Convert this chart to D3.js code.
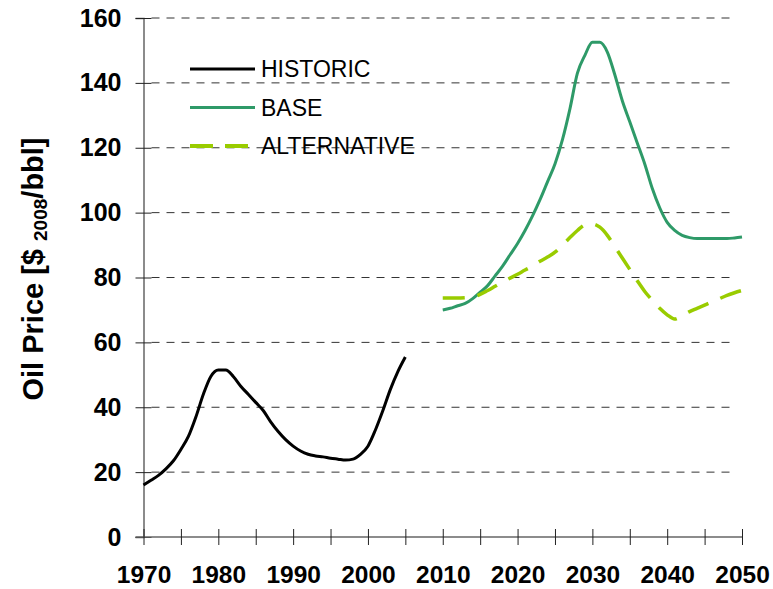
<!DOCTYPE html>
<html>
<head>
<meta charset="utf-8">
<script src="https://cdn.jsdelivr.net/npm/d3@7"></script>
<style>
  body { margin: 0; background: #fff; }
  svg { display: block; font-family: "Liberation Sans", Arial, sans-serif; }
</style>
</head>
<body>
<div id="chart"></div>
<script>
// Oil price, $2008/bbl
const historicYears = d3.range(1970, 2006);
const historicValues = [16, 17.5, 19, 21, 23.5, 27, 31, 37, 44, 49.5, 51.5, 51.5, 49.5, 46.5, 44,
  41.5, 39, 35.5, 32.5, 30, 28, 26.5, 25.5, 25, 24.7, 24.3, 24, 23.7, 24, 25.5, 28, 33, 39, 45.5, 51, 55.5];

const forecastYears = d3.range(2010, 2051);
const baseValues = [70, 70.5, 71.3, 72, 73.5, 75.5, 77.5, 80.5, 83.5, 87, 90.5, 94.5, 99, 104, 109.5,
  115, 122.5, 132, 143, 148.5, 152.5, 152.5, 149.5, 142.5, 134.5, 128, 121.5, 115, 107.5, 101.5, 97,
  94.5, 93, 92.3, 92, 92, 92, 92, 92, 92.2, 92.5];
const alternativeValues = [73.7, 73.7, 73.7, 73.8, 74, 74.8, 76, 77.3, 78.6, 79.8, 81, 82.3, 83.5, 85,
  86.3, 87.8, 90, 92.3, 94.5, 96.2, 96.5, 95.5, 93, 89.5, 86, 82.5, 79, 75.7, 73, 70.5, 68.5, 67.2,
  68.3, 69.5, 70.5, 71.5, 72.5, 73.5, 74.5, 75.3, 76];

const xTicks = d3.range(1970, 2051, 5);
const yTicks = d3.range(0, 161, 20);
const legendLabels = ["HISTORIC", "BASE", "ALTERNATIVE"];

const width = 773, height = 589;
const margin = { top: 18, right: 31, bottom: 52, left: 143.5 };

const svg = d3.select("#chart").append("svg")
  .attr("width", width)
  .attr("height", height);

const x = d3.scaleLinear().domain([1970, 2050]).range([margin.left, width - margin.right]);
const y = d3.scaleLinear().domain([0, 160]).range([height - margin.bottom, margin.top]);

// dashed gridlines
svg.append("g")
  .selectAll("line")
  .data(yTicks.filter(d => d > 0))
  .enter()
  .append("line")
  .attr("x1", x(1970) + 8)
  .attr("x2", x(2049.2))
  .attr("y1", d => y(d))
  .attr("y2", d => y(d))
  .attr("stroke", "#333")
  .attr("stroke-width", 1)
  .attr("stroke-dasharray", "8,7");

// y axis
const yAxis = svg.append("g")
  .attr("transform", "translate(" + x(1970) + ",0)")
  .call(d3.axisLeft(y).tickValues(yTicks).tickSize(8).tickPadding(14).tickFormat(d3.format("d")));
yAxis.select(".domain").attr("stroke", "#666").attr("stroke-width", 1.5);
yAxis.selectAll(".tick line").attr("x2", 8).attr("x1", -8).attr("stroke", "#222");
yAxis.selectAll("text")
  .style("font-size", "25px")
  .style("font-weight", "bold")
  .attr("fill", "#000");

// x axis
const xAxis = svg.append("g")
  .attr("transform", "translate(0," + y(0) + ")")
  .call(d3.axisBottom(x).tickValues(xTicks).tickSize(8).tickPadding(21)
    .tickFormat(d => d % 10 === 0 ? d : ""));
xAxis.select(".domain").attr("stroke", "#666").attr("stroke-width", 1.5)
  .attr("d", "M" + (x(1970) - 8) + ",0H" + x(2050));
xAxis.selectAll(".tick line").attr("y1", -8).attr("y2", 8).attr("stroke", "#222");
xAxis.selectAll("text")
  .style("font-size", "24.5px")
  .style("font-weight", "bold")
  .attr("fill", "#000");

// y axis title
const title = svg.append("text")
  .attr("transform", "translate(43," + 269 + ") rotate(-90)")
  .attr("text-anchor", "middle")
  .style("font-size", "29px")
  .style("font-weight", "bold");
title.append("tspan").text("Oil Price [$ ");
title.append("tspan").text("2008").style("font-size", "19px").attr("dy", 4);
title.append("tspan").text("/bbl]").attr("dy", -4);

// lines
const line = d3.line()
  .x(d => x(d[0]))
  .y(d => y(d[1]))
  .curve(d3.curveMonotoneX);

svg.append("path")
  .datum(d3.zip(historicYears, historicValues))
  .attr("d", line)
  .attr("fill", "none")
  .attr("stroke", "#000")
  .attr("stroke-width", 3);

svg.append("path")
  .datum(d3.zip(forecastYears, baseValues))
  .attr("d", line)
  .attr("fill", "none")
  .attr("stroke", "#2e9a68")
  .attr("stroke-width", 3);

svg.append("path")
  .datum(d3.zip(forecastYears, alternativeValues))
  .attr("d", line)
  .attr("fill", "none")
  .attr("stroke", "#99cc00")
  .attr("stroke-width", 3.5)
  .attr("stroke-dasharray", "22,13");

// legend
const legendStyles = [
  { color: "#000", width: 3, dash: null },
  { color: "#2e9a68", width: 3, dash: null },
  { color: "#99cc00", width: 4, dash: "23,12" }
];
const legend = svg.append("g");
legendLabels.forEach((label, i) => {
  const ly = 69 + i * 38.5;
  legend.append("line")
    .attr("x1", 190).attr("x2", 255)
    .attr("y1", ly).attr("y2", ly)
    .attr("stroke", legendStyles[i].color)
    .attr("stroke-width", legendStyles[i].width)
    .attr("stroke-dasharray", legendStyles[i].dash);
  legend.append("text")
    .attr("x", 261)
    .attr("y", ly + 8)
    .style("font-size", "23px")
    .text(label);
});
</script>
</body>
</html>
